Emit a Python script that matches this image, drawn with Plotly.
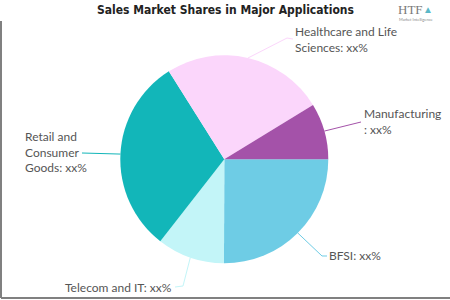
import math
import plotly.graph_objects as go

# ---- data (clockwise from 3 o'clock) ----
categories = ["BFSI", "Telecom and IT", "Retail and Consumer Goods",
              "Healthcare and Life Sciences", "Manufacturing"]
shares = [25.05, 10.5, 30.5, 25.2, 8.75]
label_texts = ["BFSI: xx%", "Telecom and IT: xx%", "Retail and<br>Consumer<br>Goods: xx%",
               "Healthcare and Life<br>Sciences: xx%", "Manufacturing<br>: xx%"]
colors = ["#6ECCE5", "#C3F5F8", "#12B6B9", "#FBD6FB", "#A452A9"]
title_text = "Sales Market Shares in Major Applications"

# ---- layout geometry (pixels) ----
W, H = 450, 300
CX, CY, R = 224.3, 159.3, 104
START = 90  # degrees clockwise from 12 o'clock
label_pos = [(327, 255, "left"), (174, 287, "right"), (23, 152, "left"),
             (293, 40, "left"), (362, 121, "left")]
elbows = [(322, 256), (183, 286), None, (287, 38), None]
line_ends = [(327, 256), (175, 287), (82, 153), (293, 39), (361, 122)]

def px(x):
    return x / W

def py(y):
    return 1 - y / H

fig = go.Figure(go.Pie(
    labels=categories, values=shares, sort=False, direction="clockwise",
    rotation=START, marker=dict(colors=colors, line=dict(width=0)),
    textinfo="none", hoverinfo="label+percent", showlegend=False,
    domain=dict(x=[px(CX - R), px(CX + R)], y=[py(CY + R), py(CY - R)]),
))

shapes = []
annotations = []
total = sum(shares)
cum = 0.0
for i, v in enumerate(shares):
    mid = START + (cum + v / 2) / total * 360.0
    cum += v
    a = math.radians(mid)
    sx, sy = CX + R * math.sin(a), CY - R * math.cos(a)
    pts = [(sx, sy)]
    if elbows[i]:
        pts.append(elbows[i])
    pts.append(line_ends[i])
    path = "M " + " L ".join(f"{px(x):.5f},{py(y):.5f}" for x, y in pts)
    shapes.append(dict(type="path", path=path, xref="paper", yref="paper",
                       line=dict(color=colors[i], width=1)))
    lx, ly, xa = label_pos[i]
    annotations.append(dict(text=label_texts[i], x=px(lx), y=py(ly), xref="paper", yref="paper",
                            xanchor=xa, yanchor="middle", align="left", showarrow=False,
                            font=dict(family="Lato", size=12, color="#555555")))

# frame lines
shapes.append(dict(type="line", xref="paper", yref="paper", x0=px(1), y0=py(21), x1=px(1), y1=py(298),
                   line=dict(color="#808080", width=2)))
shapes.append(dict(type="line", xref="paper", yref="paper", x0=px(1), y0=py(298), x1=px(450), y1=py(298),
                   line=dict(color="#808080", width=2)))

# title
annotations.append(dict(text="<b>" + title_text + "</b>", x=px(225), y=py(10), xref="paper", yref="paper",
                        xanchor="center", yanchor="middle", showarrow=False,
                        font=dict(family="Liberation Sans Narrow, DejaVu Sans Condensed", size=12, color="#222222")))
# logo text
annotations.append(dict(text="HTF", x=px(410), y=py(9), xref="paper", yref="paper",
                        xanchor="center", yanchor="middle", showarrow=False,
                        font=dict(family="Liberation Serif", size=13, color="#7a7a7a")))
annotations.append(dict(text="▲", x=px(428), y=py(9), xref="paper", yref="paper",
                        xanchor="center", yanchor="middle", showarrow=False,
                        font=dict(size=10, color="#5bb8c8")))
annotations.append(dict(text="Market Intelligence", x=px(416), y=py(19), xref="paper", yref="paper",
                        xanchor="center", yanchor="middle", showarrow=False,
                        font=dict(family="Lato", size=4, color="#888888")))

fig.update_layout(width=W, height=H, margin=dict(l=0, r=0, t=0, b=0),
                  paper_bgcolor="white", plot_bgcolor="white",
                  shapes=shapes, annotations=annotations)

fig.write_html("out.html")
